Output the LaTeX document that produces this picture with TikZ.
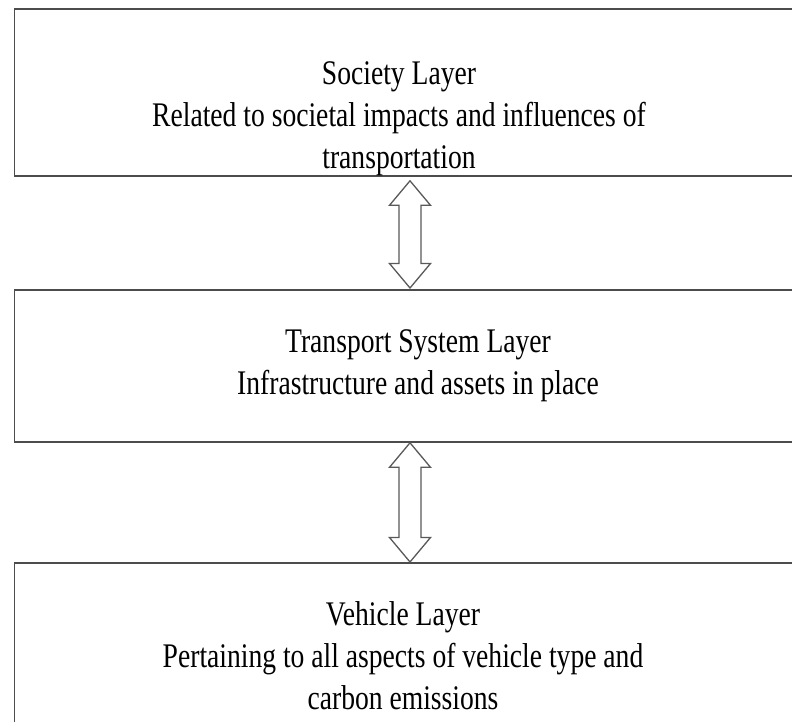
\documentclass[tikz,border=0pt]{standalone}
\usepackage{fontspec}
\setmainfont{Liberation Serif}[FakeStretch=0.8]
\usetikzlibrary{calc}
\tikzset{
  layerbox/.style={draw=black!70, line width=1.8pt, fill=white, inner sep=0pt, minimum width=800pt},
  layertext/.style={align=center, font=\fontsize{34.5pt}{42pt}\selectfont, text=black, inner sep=0pt},
  arrowline/.style={draw=black!65, line width=1.3pt, fill=white, line join=miter}
}
\newcommand\dblarrow[2]{%
  \draw[arrowline] (#1) -- ++(20.5,24.5) -- ++(-9.5,0) -- ($(#2)+(11,-24.5)$) -- ++(9.5,0)
    -- (#2) -- ++(-20.5,-24.5) -- ++(9.5,0) -- ($(#1)+(-11,24.5)$) -- ++(-9.5,0) -- cycle;}
\begin{document}
\begin{tikzpicture}[x=1pt,y=-1pt]
\useasboundingbox (0,0) rectangle (792,722);
\fill[white] (0,0) rectangle (792,722);
\clip (0,0) rectangle (792,722);
\node[layerbox, anchor=north west, minimum height=166.5pt] (soc) at (13.5,8.5) {};
\node[layerbox, anchor=north west, minimum height=152pt] (tra) at (13.5,289) {};
\node[layerbox, anchor=north west, minimum height=200pt] (veh) at (13.5,562) {};
\node[layertext] (soct) at (399,118.5) {Society Layer\\Related to societal impacts and influences of\\transportation};
\node[layertext] (trat) at (418,366) {Transport System Layer\\Infrastructure and assets in place};
\node[layertext] (veht) at (403,656) {Vehicle Layer\\Pertaining to all aspects of vehicle type and\\carbon emissions};
\coordinate (a1t) at ($(soc.south west)+(396.5,4)$);
\coordinate (a1b) at ($(tra.north west)+(396.5,-1)$);
\coordinate (a2t) at ($(tra.south west)+(396.5,0)$);
\coordinate (a2b) at ($(veh.north west)+(396.5,0)$);
\dblarrow{a1t}{a1b}
\dblarrow{a2t}{a2b}
\end{tikzpicture}
\end{document}
